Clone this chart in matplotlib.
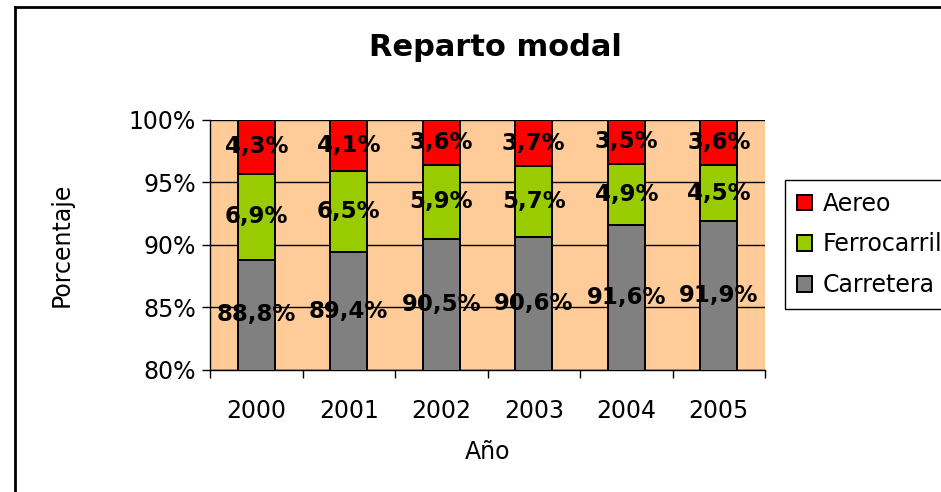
import matplotlib.pyplot as plt
from matplotlib.lines import Line2D

years = ["2000", "2001", "2002", "2003", "2004", "2005"]
carretera = [88.8, 89.4, 90.5, 90.6, 91.6, 91.9]
ferrocarril = [6.9, 6.5, 5.9, 5.7, 4.9, 4.5]
aereo = [4.3, 4.1, 3.6, 3.7, 3.5, 3.6]

ymin, ymax = 80, 100

fig = plt.figure(figsize=(9.41, 4.92), dpi=100)
ax = fig.add_axes([0.2232, 0.2480, 0.5898, 0.5081])
ax.set_facecolor("#FFCC99")

x = list(range(len(years)))
w = 0.4
ferro_bottom = carretera
aereo_bottom = [c + f for c, f in zip(carretera, ferrocarril)]

b3 = ax.bar(x, carretera, w, color="#808080", edgecolor="black", linewidth=1.4, label="Carretera", zorder=3)
b2 = ax.bar(x, ferrocarril, w, bottom=ferro_bottom, color="#99CC00", edgecolor="black", linewidth=1.4, label="Ferrocarril", zorder=3)
b1 = ax.bar(x, aereo, w, bottom=aereo_bottom, color="#FF0000", edgecolor="black", linewidth=1.4, label="Aereo", zorder=3)

def fmt(v):
    return ("%.1f%%" % v).replace(".", ",")

# labels centered in the visible part of each segment
for i in x:
    segs = [(ymin, carretera[i], carretera[i]),
            (aereo_bottom[i] - ferrocarril[i], aereo_bottom[i], ferrocarril[i]),
            (aereo_bottom[i], min(ymax, aereo_bottom[i] + aereo[i]), aereo[i])]
    for lo, hi, v in segs:
        lo = max(lo, ymin)
        ax.text(i, (lo + hi) / 2, fmt(v), ha="center", va="center",
                fontsize=16.5, fontweight="bold", color="black", zorder=5)

ax.set_ylim(ymin, ymax)
ax.set_xlim(-0.5, len(years) - 0.5)
ax.set_yticks([80, 85, 90, 95, 100])
ax.set_yticklabels(["80%", "85%", "90%", "95%", "100%"], fontsize=17)
ax.yaxis.grid(True, color="black", linewidth=1, zorder=1)
ax.set_axisbelow(True)

ax.set_xticks(x)
ax.set_xticklabels(years, fontsize=17)
ax.tick_params(axis="x", which="major", length=0, pad=21)
ax.set_xticks([i - 0.5 for i in range(len(years) + 1)], minor=True)
ax.tick_params(axis="x", which="minor", length=6, width=1, direction="out")
ax.tick_params(axis="y", length=6, width=1, direction="out", pad=4)

for s in ["top", "right"]:
    ax.spines[s].set_visible(False)
for s in ["left", "bottom"]:
    ax.spines[s].set_linewidth(1)
    ax.spines[s].set_color("black")

ax.set_xlabel("Año", fontsize=17, labelpad=12)
ax.set_ylabel("Porcentaje", fontsize=17, labelpad=40)
fig.suptitle("Reparto modal", fontsize=22, fontweight="bold", x=0.527, y=0.932)

leg = fig.legend(handles=[b1, b2, b3], labels=["Aereo", "Ferrocarril", "Carretera"],
                 loc="upper left", bbox_to_anchor=(0.834, 0.634), fontsize=17,
                 fancybox=False, frameon=True, edgecolor="black", framealpha=1,
                 handlelength=0.65, handleheight=0.65, handletextpad=0.45,
                 labelspacing=0.7, borderpad=0.5, borderaxespad=0)
leg.get_frame().set_linewidth(1)

# chart area border (cut off on right and bottom)
fig.add_artist(Line2D([15 / 941, 15 / 941], [0, 1 - 7 / 492], color="black", linewidth=2, transform=fig.transFigure))
fig.add_artist(Line2D([15 / 941, 1], [1 - 7 / 492, 1 - 7 / 492], color="black", linewidth=2, transform=fig.transFigure))

fig.savefig("out.png", dpi=100)
